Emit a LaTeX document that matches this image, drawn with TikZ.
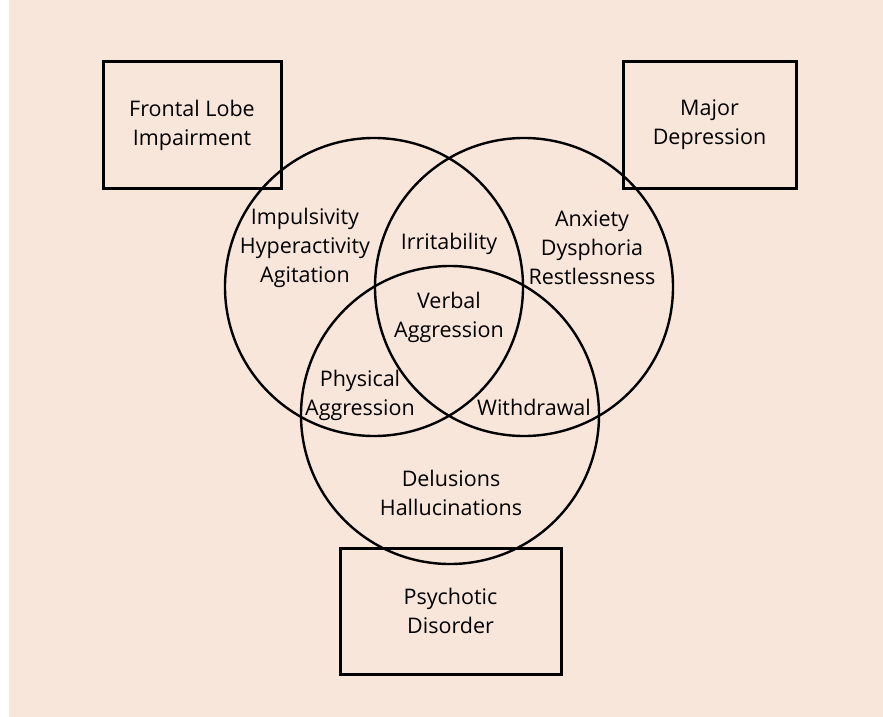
\documentclass[tikz,border=0pt]{standalone}
\usepackage{fontspec}
\setmainfont{Open Sans}
\usepackage{xcolor}
\usepackage{tikz}
\definecolor{paper}{HTML}{F9E6DB}

\begin{document}
\begin{tikzpicture}[
    x=1pt, y=-1pt,
    txt/.style={align=center, inner sep=0pt, font=\fontsize{21.5}{29}\selectfont},
    box/.style={txt, rectangle, draw, line width=3pt, minimum width=#1, minimum height=126pt},
    ring/.style={circle, draw, line width=2.4pt, minimum size=298pt, inner sep=0pt},
]

% page and background
\useasboundingbox (0,0) rectangle (883,717);
\fill[paper] (9,-5) rectangle (890,725);

% the three disorders
\node[box=178pt] (frontal) at (192,125) {Frontal Lobe\\Impairment};
\node[box=173pt] (depress) at (709.5,125) {Major\\Depression};
\node[box=221pt] (psycho) at (450.5,611) {Psychotic\\Disorder};

% overlapping circles
\node[ring] (cfrontal) at (374,287) {};
\node[ring] (cdepress) at (524,287) {};
\node[ring] (cpsycho) at (450,415) {};

% symptoms
\node[txt] (impuls) at (305,248) {Impulsivity\\Hyperactivity\\Agitation};
\node[txt] (anxiety) at (592,248) {Anxiety\\Dysphoria\\Restlessness};
\node[txt] (irrit) at (449,244) {Irritability};
\node[txt] (verbal) at (449,317.5) {Verbal\\Aggression};
\node[txt] (physical) at (360,395.5) {Physical\\Aggression};
\node[txt] (withdraw) at (534,407) {Withdrawal};
\node[txt] (delusion) at (451,493) {Delusions\\Hallucinations};

\end{tikzpicture}
\end{document}
